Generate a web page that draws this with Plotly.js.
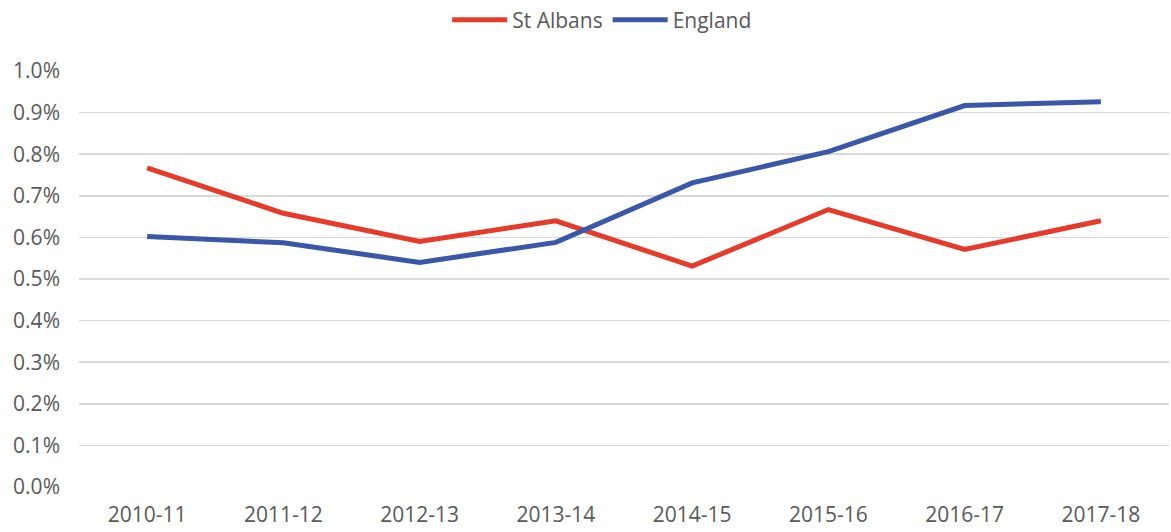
<!DOCTYPE html>
<html>
<head>
<meta charset="utf-8">
<script src="https://cdn.plot.ly/plotly-3.0.1.min.js"></script>
<style>
  html, body { margin: 0; padding: 0; background: #ffffff; }
  #chart { width: 1171px; height: 532px; }
</style>
</head>
<body>
<div id="chart"></div>
<script>
const years = ["2010-11", "2011-12", "2012-13", "2013-14", "2014-15", "2015-16", "2016-17", "2017-18"];
const stAlbans = [0.767, 0.658, 0.590, 0.640, 0.531, 0.667, 0.571, 0.640];
const england = [0.602, 0.587, 0.540, 0.588, 0.731, 0.806, 0.917, 0.926];
const yTicks = [0, 0.1, 0.2, 0.3, 0.4, 0.5, 0.6, 0.7, 0.8, 0.9, 1.0];
const yTickLabels = ["0.0%", "0.1%", "0.2%", "0.3%", "0.4%", "0.5%", "0.6%", "0.7%", "0.8%", "0.9%", "1.0%"];

const textColor = "#595959";
const fontFamily = "'Open Sans', 'Noto Sans', sans-serif";

const traces = [
  {
    x: years, y: stAlbans, name: "St Albans", type: "scatter", mode: "lines",
    line: { color: "#E63A2B", width: 5 }
  },
  {
    x: years, y: england, name: "England", type: "scatter", mode: "lines",
    line: { color: "#3B57A7", width: 5 }
  }
];

const layout = {
  width: 1171, height: 532,
  margin: { l: 79, r: 2, t: 71, b: 45 },
  paper_bgcolor: "#ffffff",
  plot_bgcolor: "#ffffff",
  font: { family: fontFamily, size: 21, color: textColor },
  showlegend: true,
  legend: {
    orientation: "h", x: 0.48, xanchor: "center", xref: "paper",
    y: 0.962, yanchor: "middle", yref: "container",
    font: { family: fontFamily, size: 21, color: textColor },
    itemwidth: 55, tracegroupgap: 0
  },
  xaxis: {
    type: "category",
    range: [-0.5, years.length - 0.5],
    showgrid: false, zeroline: false, showline: false,
    ticks: "", ticklabelstandoff: 13,
    tickfont: { family: fontFamily, size: 21, color: textColor },
    fixedrange: true
  },
  yaxis: {
    range: [0, 1.0],
    tickvals: yTicks, ticktext: yTickLabels,
    showgrid: true, gridcolor: "#D9D9D9", gridwidth: 1.5,
    zeroline: false, showline: false,
    ticks: "", ticklabelstandoff: 18,
    tickfont: { family: fontFamily, size: 21, color: textColor },
    fixedrange: true
  }
};

Plotly.newPlot("chart", traces, layout, { displayModeBar: false, staticPlot: true });
</script>
</body>
</html>
